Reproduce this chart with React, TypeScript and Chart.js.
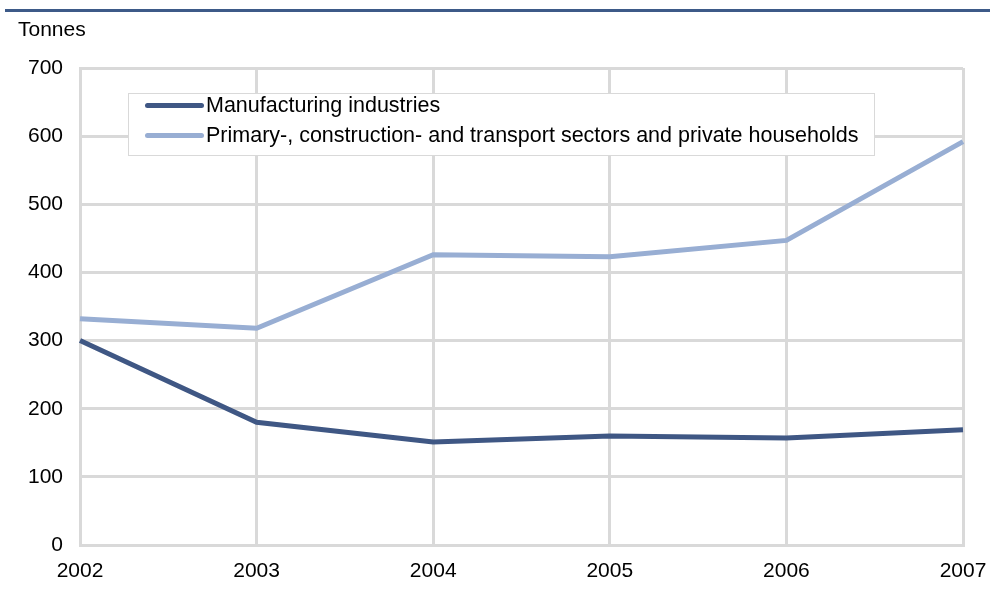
import React, { useEffect, useRef } from "react";
import { Chart, registerables } from "chart.js";

Chart.register(...registerables);

const years = ["2002", "2003", "2004", "2005", "2006", "2007"];
const manufacturing = [300, 180, 151, 160, 157, 169];
const primaryEtc = [332, 318, 426, 423, 447, 592];
const seriesNames = [
  "Manufacturing industries",
  "Primary-, construction- and transport sectors and private households",
];
const yTicks = [0, 100, 200, 300, 400, 500, 600, 700];

const DARK = "#3f5784";
const LIGHT = "#98aed3";
const GRID = "#d9d9d9";
const FONT = "'Liberation Sans', Arial, sans-serif";

export default function App() {
  const ref = useRef<HTMLCanvasElement>(null);
  useEffect(() => {
    if (!ref.current) return;
    const chart = new Chart(ref.current, {
      type: "line",
      data: {
        labels: years,
        datasets: [
          {
            label: seriesNames[0],
            data: manufacturing,
            borderColor: DARK,
            backgroundColor: DARK,
            borderWidth: 5,
            pointRadius: 0,
            tension: 0,
          },
          {
            label: seriesNames[1],
            data: primaryEtc,
            borderColor: LIGHT,
            backgroundColor: LIGHT,
            borderWidth: 5,
            pointRadius: 0,
            tension: 0,
          },
        ],
      },
      options: {
        animation: false,
        responsive: false,
        layout: { padding: { top: 68, right: 30, left: 0, bottom: 0 } },
        plugins: { legend: { display: false }, tooltip: { enabled: false } },
        scales: {
          x: {
            type: "category",
            offset: false,
            grid: { color: GRID, lineWidth: 3, drawTicks: false },
            border: { color: GRID, width: 3 },
            ticks: {
              color: "#000",
              font: { family: FONT, size: 21 },
              padding: 14,
              maxRotation: 0,
            },
            afterFit: (s: any) => {
              s.height = 50;
              s.paddingLeft = 0;
              s.paddingRight = 0;
            },
          },
          y: {
            min: 0,
            max: 700,
            afterBuildTicks: (s: any) => {
              s.ticks = yTicks.map((v) => ({ value: v }));
            },
            grid: { color: GRID, lineWidth: 3, drawTicks: false },
            border: { color: GRID, width: 3 },
            ticks: {
              color: "#000",
              font: { family: FONT, size: 21 },
              padding: 17,
            },
            afterFit: (s: any) => {
              s.width = 80;
              s.paddingTop = 0;
              s.paddingBottom = 0;
            },
          },
        },
      },
    });
    return () => chart.destroy();
  }, []);

  return (
    <div
      style={{
        position: "fixed",
        left: 0,
        top: 0,
        width: 993,
        height: 595,
        background: "#fff",
        fontFamily: FONT,
        overflow: "hidden",
      }}
    >
      <canvas ref={ref} width={993} height={595} style={{ position: "absolute", left: 0, top: 0 }} />
      <div
        style={{
          position: "absolute",
          left: 5,
          top: 9,
          width: 985,
          height: 3,
          background: "#3d5a88",
        }}
      />
      <div
        style={{
          position: "absolute",
          left: 18,
          top: 16,
          fontSize: 21,
          color: "#000",
          lineHeight: "26px",
        }}
      >
        Tonnes
      </div>
      <div
        style={{
          position: "absolute",
          left: 128,
          top: 93,
          width: 747,
          height: 63,
          background: "#fff",
          border: "1px solid #d9d9d9",
          boxSizing: "border-box",
        }}
      >
        {seriesNames.map((name, i) => (
          <div
            key={name}
            style={{
              position: "absolute",
              left: 16,
              top: -2 + i * 30,
              height: 26,
              display: "flex",
              alignItems: "center",
              whiteSpace: "nowrap",
            }}
          >
            <span
              style={{
                display: "inline-block",
                width: 59,
                height: 5,
                borderRadius: 3,
                background: i === 0 ? DARK : LIGHT,
                marginRight: 2,
              }}
            />
            <span style={{ fontSize: 21.5, color: "#000" }}>{name}</span>
          </div>
        ))}
      </div>
    </div>
  );
}
